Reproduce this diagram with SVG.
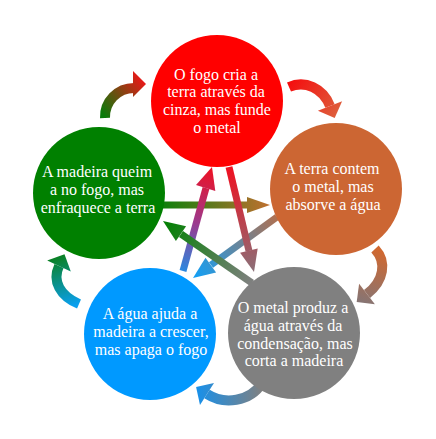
<svg xmlns="http://www.w3.org/2000/svg" width="436" height="439" viewBox="0 0 436 439">
<style>
.lbl{font-family:"Liberation Serif","Times New Roman",serif;font-size:16px;fill:#ffffff;text-anchor:middle}
.arc{fill:none;stroke-width:10}
.bar{fill:none;stroke-width:7}
</style>
<defs>
<linearGradient id="g1" gradientUnits="userSpaceOnUse" x1="105" y1="117" x2="146" y2="84"><stop offset="0" stop-color="#0a7a0a"/><stop offset="1" stop-color="#e81818"/></linearGradient>
<linearGradient id="g2" gradientUnits="userSpaceOnUse" x1="289" y1="86" x2="335" y2="118"><stop offset="0" stop-color="#f41010"/><stop offset="1" stop-color="#de5e3c"/></linearGradient>
<linearGradient id="g3" gradientUnits="userSpaceOnUse" x1="375" y1="249" x2="357" y2="302"><stop offset="0" stop-color="#d06830"/><stop offset="1" stop-color="#857575"/></linearGradient>
<linearGradient id="g4" gradientUnits="userSpaceOnUse" x1="262" y1="383" x2="196" y2="387"><stop offset="0" stop-color="#808080"/><stop offset="1" stop-color="#1890ea"/></linearGradient>
<linearGradient id="g5" gradientUnits="userSpaceOnUse" x1="79" y1="304" x2="64" y2="254"><stop offset="0" stop-color="#0aa0f0"/><stop offset="1" stop-color="#0a8020"/></linearGradient>
<linearGradient id="s1" gradientUnits="userSpaceOnUse" x1="160" y1="205" x2="270" y2="205"><stop offset="0" stop-color="#0a800a"/><stop offset="1" stop-color="#c07030"/></linearGradient>
<linearGradient id="s2" gradientUnits="userSpaceOnUse" x1="277" y1="217" x2="193" y2="278"><stop offset="0" stop-color="#b07050"/><stop offset="1" stop-color="#10a0f8"/></linearGradient>
<linearGradient id="s3" gradientUnits="userSpaceOnUse" x1="183" y1="271" x2="212" y2="167"><stop offset="0" stop-color="#2a88e0"/><stop offset="0.45" stop-color="#9a3a90"/><stop offset="1" stop-color="#f01020"/></linearGradient>
<linearGradient id="s4" gradientUnits="userSpaceOnUse" x1="229" y1="167" x2="254" y2="272"><stop offset="0" stop-color="#f01020"/><stop offset="1" stop-color="#8a7078"/></linearGradient>
<linearGradient id="s5" gradientUnits="userSpaceOnUse" x1="252" y1="283" x2="163" y2="221"><stop offset="0" stop-color="#808080"/><stop offset="1" stop-color="#008000"/></linearGradient>
</defs>
<g id="connectors">
<path class="arc" stroke="url(#g1)" d="M105,118 A29,29 0 0 1 134,88"/>
<polygon fill="url(#g1)" points="133,71 146,84 133,97"/>
<path class="arc" stroke="url(#g2)" d="M289,87 C305,80 323,88 330,106"/>
<polygon fill="url(#g2)" points="317.9,110.7 342.1,101.3 334.7,118.1"/>
<path class="arc" stroke="url(#g3)" d="M375,249 C387,262 384,281 367,294"/>
<polygon fill="url(#g3)" points="374.9,304.3 359.1,283.7 356.7,301.9"/>
<path class="arc" stroke="url(#g4)" d="M262,383 C250,402 224,405 207,394"/>
<polygon fill="url(#g4)" points="214,383.1 200,404.9 196.1,387"/>
<path class="arc" stroke="url(#g5)" d="M79,304 C60,296 52,281 59,266"/>
<polygon fill="url(#g5)" points="70.8,271.5 47.2,260.5 64.5,254.2"/>
<line class="bar" stroke="url(#s1)" x1="160" y1="205" x2="248" y2="205"/>
<polygon fill="url(#s1)" points="247,197 270,205 247,213"/>
<line class="bar" stroke="url(#s2)" x1="277" y1="217" x2="211" y2="265"/>
<polygon fill="url(#s2)" points="216.1,272.4 205.5,257.8 193,278"/>
<line class="bar" stroke="url(#s3)" x1="183" y1="271" x2="206" y2="188"/>
<polygon fill="url(#s3)" points="196,185 212,167 215.3,191"/>
<line class="bar" stroke="url(#s4)" x1="229" y1="167" x2="249" y2="251"/>
<polygon fill="url(#s4)" points="257.7,248.5 254,272 240.1,252.7"/>
<line class="bar" stroke="url(#s5)" x1="252" y1="283" x2="181" y2="234"/>
<polygon fill="url(#s5)" points="186.1,226.2 163,221 175.9,241"/>
</g>
<g id="fire">
<circle cx="217" cy="101" r="66" fill="#ff0000"/>
<text class="lbl" x="216" y="79.5">O fogo cria a</text>
<text class="lbl" x="216" y="97.3">terra através da</text>
<text class="lbl" x="217" y="115.1">cinza, mas funde</text>
<text class="lbl" x="217" y="132.9">o metal</text>
</g>
<g id="wood">
<circle cx="99" cy="193" r="66" fill="#008000"/>
<text class="lbl" x="97" y="177">A madeira queim</text>
<text class="lbl" x="97" y="194.8">a no fogo, mas</text>
<text class="lbl" x="98" y="212.6">enfraquece a terra</text>
</g>
<g id="earth">
<circle cx="336" cy="189" r="66" fill="#cc6633"/>
<text class="lbl" x="332" y="174">A terra contem</text>
<text class="lbl" x="333" y="191.8">o metal, mas</text>
<text class="lbl" x="333" y="209.6">absorve a água</text>
</g>
<g id="water">
<circle cx="150" cy="334" r="66" fill="#0099ff"/>
<text class="lbl" x="150" y="319">A água ajuda a</text>
<text class="lbl" x="151" y="336.8">madeira a crescer,</text>
<text class="lbl" x="151" y="354.6">mas apaga o fogo</text>
</g>
<g id="metal">
<circle cx="294" cy="333" r="66" fill="#808080"/>
<text class="lbl" x="293" y="313">O metal produz a</text>
<text class="lbl" x="293" y="330.8">água através da</text>
<text class="lbl" x="295" y="348.6">condensação, mas</text>
<text class="lbl" x="294" y="366.4">corta a madeira</text>
</g>
</svg>
